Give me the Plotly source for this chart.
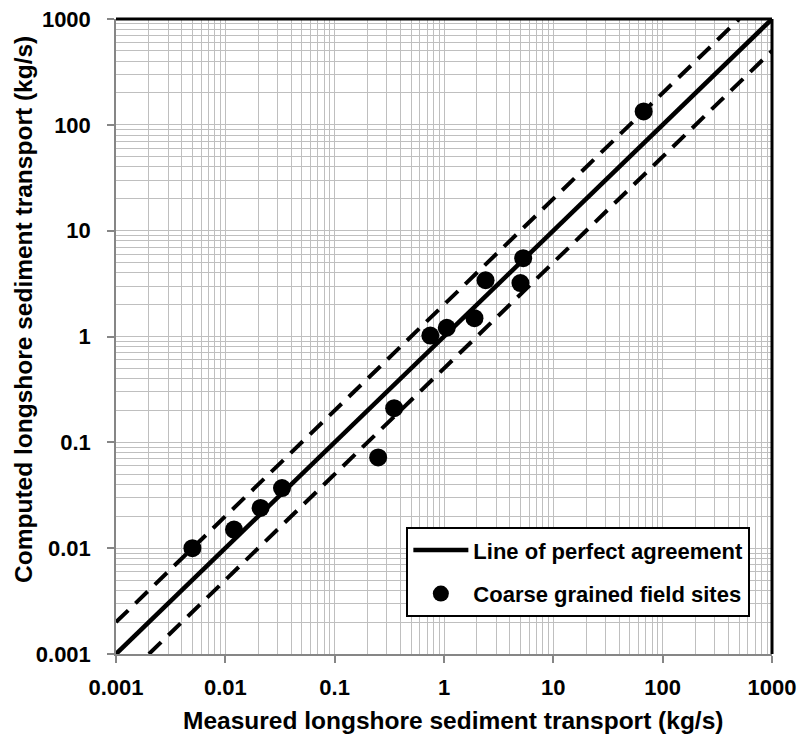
import plotly.graph_objects as go

# Data (kg/s)
measured = [0.005, 0.012, 0.021, 0.033, 0.25, 0.35, 0.75, 1.06, 1.9, 2.4, 5.0, 5.3, 67]
computed = [0.010, 0.015, 0.024, 0.037, 0.072, 0.21, 1.02, 1.21, 1.49, 3.4, 3.2, 5.5, 134]

perfect_x = [0.001, 1000]
upper_factor = 2.0
lower_factor = 0.5

tick_vals = [0.001, 0.01, 0.1, 1, 10, 100, 1000]
tick_text = ["0.001", "0.01", "0.1", "1", "10", "100", "1000"]
minor_vals = [m * 10.0 ** e for e in range(-3, 3) for m in range(2, 10)]

FONT = "Liberation Sans, Arial, sans-serif"
GRID = "#BFBFBF"
AXIS = "#868686"

fig = go.Figure()

# dashed bounds
fig.add_trace(go.Scatter(
    x=[perfect_x[0], perfect_x[1] / upper_factor],
    y=[perfect_x[0] * upper_factor, perfect_x[1]],
    mode="lines", line=dict(color="black", width=4, dash="17px,10px"),
    showlegend=False, hoverinfo="skip"))
fig.add_trace(go.Scatter(
    x=[perfect_x[0] / lower_factor, perfect_x[1]],
    y=[perfect_x[0], perfect_x[1] * lower_factor],
    mode="lines", line=dict(color="black", width=4, dash="17px,10px"),
    showlegend=False, hoverinfo="skip"))

fig.add_trace(go.Scatter(
    x=perfect_x, y=perfect_x, mode="lines",
    line=dict(color="black", width=4.5),
    name="<b>Line of perfect agreement</b>", legendgroup="a"))

fig.add_trace(go.Scatter(
    x=measured, y=computed, mode="markers",
    marker=dict(color="black", size=18),
    name="<b>Coarse grained field sites</b>", legendgroup="b"))

axis_common = dict(
    type="log", range=[-3, 3], automargin=False,
    tickmode="array", tickvals=tick_vals, ticktext=tick_text,
    showgrid=True, gridcolor=GRID, gridwidth=1,
    minor=dict(tickmode="array", tickvals=minor_vals, showgrid=True,
               gridcolor=GRID, gridwidth=1, ticks=""),
    showline=True, linecolor=AXIS, linewidth=1.5,
    ticks="outside", ticklen=7, tickcolor=AXIS, tickwidth=1.5,
    tickfont=dict(family=FONT, size=22, color="black", weight="bold"),
    zeroline=False,
)

fig.update_xaxes(**axis_common, ticklabelstandoff=6)
fig.update_yaxes(**axis_common, ticklabelstandoff=12)

# black frame on top and right
fig.add_shape(type="line", xref="paper", yref="paper", x0=0, x1=1, y0=1, y1=1,
              line=dict(color="black", width=3))
fig.add_shape(type="line", xref="paper", yref="paper", x0=1, x1=1, y0=0, y1=1,
              line=dict(color="black", width=3))

# axis titles
fig.add_annotation(text="<b>Measured longshore sediment transport (kg/s)</b>",
                   xref="paper", yref="paper", x=0.513, y=-0.105,
                   xanchor="center", yanchor="middle", showarrow=False,
                   font=dict(family=FONT, size=24.5, color="black"))
fig.add_annotation(text="<b>Computed longshore sediment transport (kg/s)</b>",
                   xref="paper", yref="paper", x=-0.14, y=0.542,
                   xanchor="center", yanchor="middle", showarrow=False, textangle=-90,
                   font=dict(family=FONT, size=24.5, color="black"))

fig.update_layout(
    width=801, height=738,
    margin=dict(l=116, r=29, t=19, b=84),
    plot_bgcolor="white", paper_bgcolor="white",
    legend=dict(x=0.967, xanchor="right", y=0.058, yanchor="bottom",
                bgcolor="white", bordercolor="black", borderwidth=2,
                font=dict(family=FONT, size=22, color="black"),
                itemwidth=55,
                tracegroupgap=12, traceorder="grouped"),
)

fig.write_html("out.html")
